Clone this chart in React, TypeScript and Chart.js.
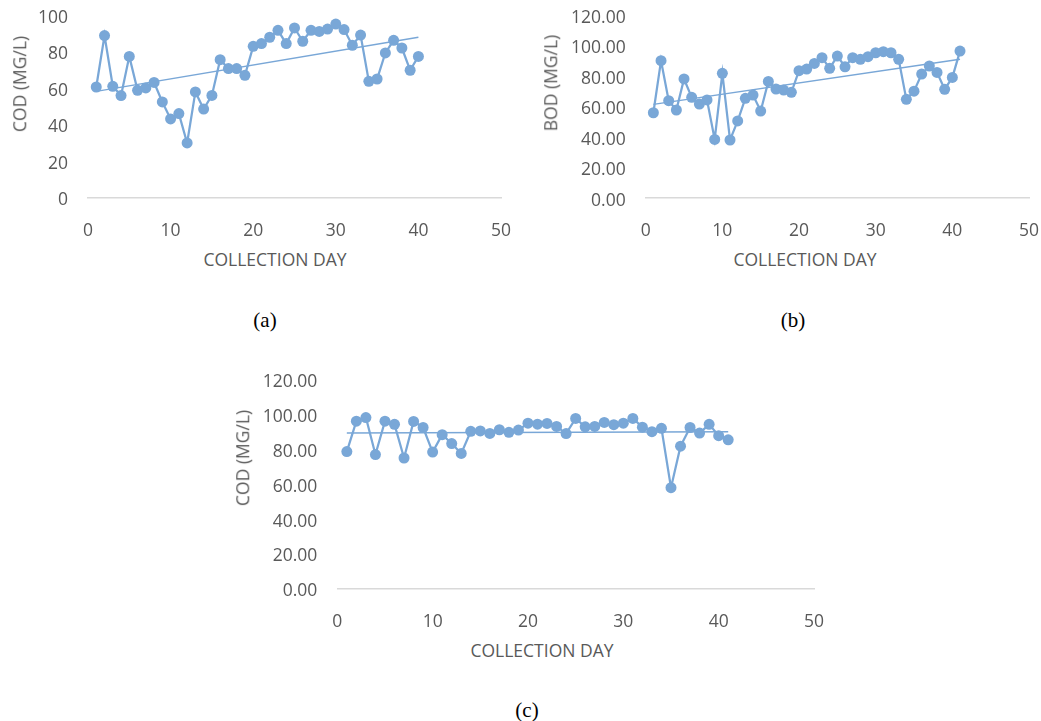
import React, { useEffect, useRef } from "react";
import { Chart, registerables } from "chart.js";

Chart.register(...registerables);

// Collection days
const daysA = Array.from({ length: 40 }, (_, i) => i + 1);
const daysBC = Array.from({ length: 41 }, (_, i) => i + 1);

// (a) COD, mg/L
const codA = [
  60.5, 88.7, 60.9, 55.8, 77.3, 58.7, 60.0, 63.0, 52.3, 43.0,
  45.9, 29.8, 57.8, 48.4, 55.9, 75.5, 70.6, 70.6, 66.9, 82.8,
  84.3, 87.8, 91.6, 84.3, 92.9, 85.6, 91.6, 91.0, 92.3, 95.0,
  92.0, 83.4, 89.0, 63.6, 64.9, 79.2, 86.1, 81.9, 69.7, 77.3,
];
const trendA = [58.1, 87.8];

// (b) BOD, mg/L
const bodB = [
  55.8, 90.0, 63.7, 57.6, 78.0, 65.9, 61.5, 64.2, 38.3, 81.7,
  37.9, 50.4, 65.3, 67.4, 56.9, 76.4, 71.4, 70.7, 69.2, 83.4,
  84.5, 88.2, 92.0, 85.0, 93.0, 86.0, 92.0, 90.9, 92.6, 95.2,
  95.9, 95.2, 90.9, 64.6, 70.0, 81.2, 86.5, 82.3, 71.2, 79.0,
  96.3,
];
const trendB = [61.3, 90.9];

// (c) COD, mg/L
const codC = [
  78.4, 95.8, 97.9, 76.7, 95.8, 94.0, 74.7, 95.7, 92.2, 78.1,
  88.1, 83.0, 77.3, 90.0, 90.2, 88.8, 90.9, 89.4, 90.7, 94.7,
  94.1, 94.5, 92.8, 88.7, 97.4, 92.6, 92.8, 95.1, 93.8, 94.7,
  97.4, 92.4, 89.8, 91.7, 57.7, 81.5, 92.2, 89.0, 94.0, 87.5,
  85.1,
];
const trendC = [89.0, 89.8];

const xTicks = [0, 10, 20, 30, 40, 50];
const yTicksA = [0, 20, 40, 60, 80, 100];
const yTicksBC = [0, 20, 40, 60, 80, 100, 120];

const BLUE = "#79a7d7";
const TEXT = "#595959";
const FONT = "'Open Sans', 'Noto Sans', sans-serif";

// room left around the plot so tick labels never push the plot area inwards
const PAD = 40;
const X_AXIS_H = 47;

type PanelProps = {
  canvasLeft: number;
  plot: { l: number; t: number; r: number; b: number };
  days: number[];
  values: number[];
  trend: number[];
  yTicks: number[];
  decimals: number;
};

function Panel(p: PanelProps) {
  const ref = useRef<HTMLCanvasElement>(null);
  const yAxisW = p.plot.l - p.canvasLeft;
  const top = p.plot.t - PAD;
  const width = Math.round(p.plot.r + PAD - p.canvasLeft);
  const height = Math.round(p.plot.b + X_AXIS_H - top);
  const bottomAxisH = height - PAD - (p.plot.b - p.plot.t);

  useEffect(() => {
    if (!ref.current) return;
    const pts = p.days.map((d, i) => ({ x: d, y: p.values[i] }));
    const trendPts = [
      { x: p.days[0], y: p.trend[0] },
      { x: p.days[p.days.length - 1], y: p.trend[1] },
    ];
    const yMax = p.yTicks[p.yTicks.length - 1];
    const chart = new Chart(ref.current, {
      type: "scatter",
      data: {
        datasets: [
          {
            data: pts,
            showLine: true,
            borderColor: BLUE,
            backgroundColor: BLUE,
            borderWidth: 2.25,
            pointRadius: 5.5,
            pointBorderWidth: 0,
            pointBackgroundColor: BLUE,
          },
          {
            data: trendPts,
            showLine: true,
            borderColor: BLUE,
            borderWidth: 1.5,
            pointRadius: 0,
          },
        ],
      },
      options: {
        responsive: false,
        animation: false,
        devicePixelRatio: 1,
        layout: { padding: { left: 0, top: PAD, right: PAD, bottom: 0 } },
        plugins: { legend: { display: false }, tooltip: { enabled: false } },
        scales: {
          x: {
            type: "linear",
            min: xTicks[0],
            max: xTicks[xTicks.length - 1],
            afterBuildTicks: (s: any) => {
              s.ticks = xTicks.map((v) => ({ value: v }));
            },
            afterFit: (s: any) => {
              s.height = bottomAxisH;
            },
            grid: { display: false, drawTicks: false },
            border: { display: true, color: "#d9d9d9", width: 1.5 },
            ticks: {
              color: TEXT,
              font: { family: FONT, size: 17.5 },
              padding: 23,
              maxRotation: 0,
              callback: (v: any) => String(v),
            },
          },
          y: {
            type: "linear",
            min: 0,
            max: yMax,
            afterBuildTicks: (s: any) => {
              s.ticks = p.yTicks.map((v) => ({ value: v }));
            },
            afterFit: (s: any) => {
              s.width = yAxisW;
            },
            grid: { display: false, drawTicks: false },
            border: { display: false },
            ticks: {
              color: TEXT,
              font: { family: FONT, size: 17.5 },
              padding: 20,
              labelOffset: 3,
              callback: (v: any) => Number(v).toFixed(p.decimals),
            },
          },
        },
      },
    });
    return () => chart.destroy();
  }, []);
  return (
    <canvas
      ref={ref}
      width={width}
      height={height}
      style={{ position: "absolute", left: p.canvasLeft, top, width, height }}
    />
  );
}

const textStyle: React.CSSProperties = {
  position: "absolute",
  fontFamily: FONT,
  fontSize: 17.5,
  color: TEXT,
  whiteSpace: "nowrap",
  lineHeight: 1,
};

function Label({ x, y, text, rotate }: { x: number; y: number; text: string; rotate?: boolean }) {
  return (
    <div
      style={{
        ...textStyle,
        left: x,
        top: y,
        transform: `translate(-50%, -50%)${rotate ? " rotate(-90deg)" : ""}`,
      }}
    >
      {text}
    </div>
  );
}

function Caption({ x, y, text }: { x: number; y: number; text: string }) {
  return (
    <div
      style={{
        position: "absolute",
        left: x,
        top: y,
        transform: "translate(-50%, -50%)",
        fontFamily: "'Liberation Serif', 'Times New Roman', serif",
        fontSize: 21,
        color: "#000",
        whiteSpace: "nowrap",
      }}
    >
      {text}
    </div>
  );
}

export default function App() {
  return (
    <div style={{ position: "absolute", left: 0, top: 0, width: 1041, height: 721, background: "#fff", overflow: "hidden" }}>
      <Panel
        canvasLeft={0}
        plot={{ l: 88, t: 15.4, r: 501, b: 197.7 }}
        days={daysA} values={codA} trend={trendA} yTicks={yTicksA} decimals={0}
      />
      <Label x={20} y={84} text="COD (MG/L)" rotate />
      <Label x={275} y={260} text="COLLECTION DAY" />
      <Caption x={265} y={320} text="(a)" />

      <Panel
        canvasLeft={520}
        plot={{ l: 645.7, t: 15, r: 1029, b: 197.7 }}
        days={daysBC} values={bodB} trend={trendB} yTicks={yTicksBC} decimals={2}
      />
      <Label x={551} y={83} text="BOD (MG/L)" rotate />
      <Label x={805} y={260} text="COLLECTION DAY" />
      <Caption x={793} y={320} text="(b)" />

      <Panel
        canvasLeft={220}
        plot={{ l: 337.3, t: 379, r: 814, b: 588.3 }}
        days={daysBC} values={codC} trend={trendC} yTicks={yTicksBC} decimals={2}
      />
      <Label x={243} y={458} text="COD (MG/L)" rotate />
      <Label x={542} y={651} text="COLLECTION DAY" />
      <Caption x={527} y={710} text="(c)" />
    </div>
  );
}
